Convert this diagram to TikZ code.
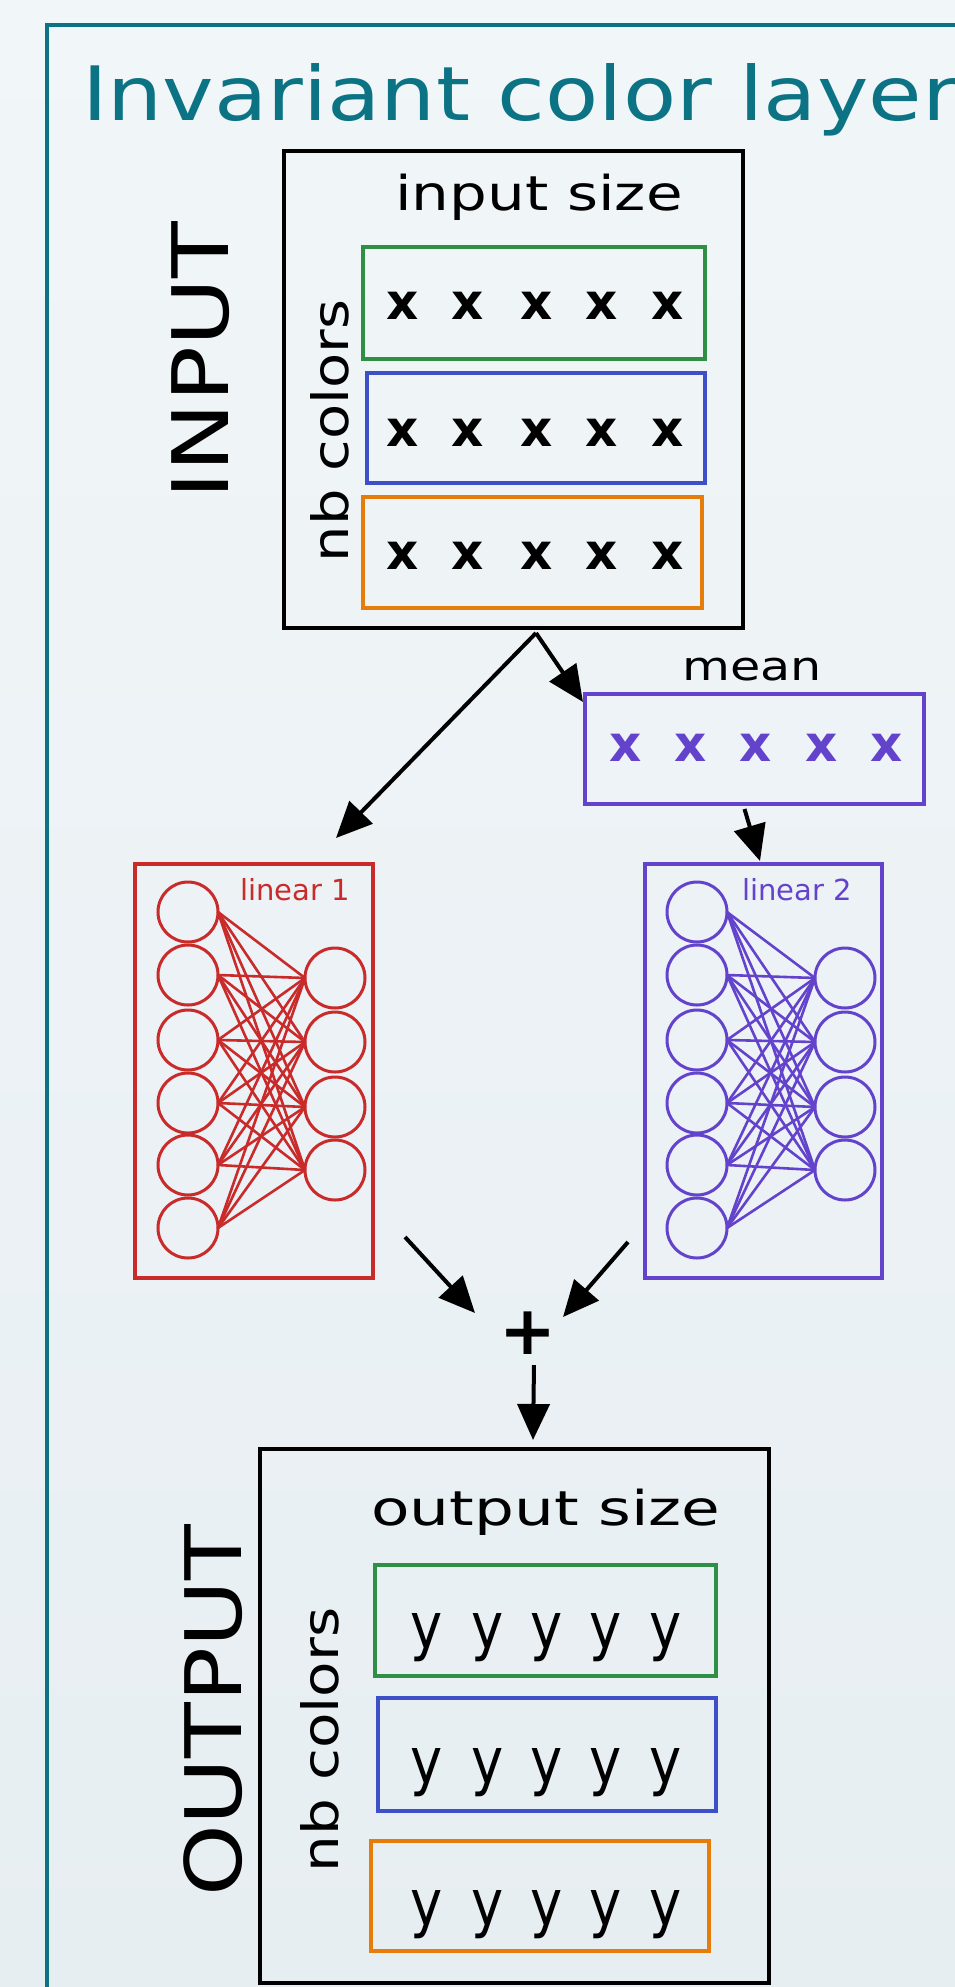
\documentclass[tikz,border=0pt]{standalone}
\usepackage{fontspec}
\setmainfont{DejaVu Sans}
\usetikzlibrary{arrows.meta,calc}
\definecolor{tealc}{HTML}{0C7385}
\definecolor{greenc}{HTML}{2F8F45}
\definecolor{bluec}{HTML}{3D50C8}
\definecolor{orangec}{HTML}{E67D0A}
\definecolor{redc}{HTML}{C92A2A}
\definecolor{purplec}{HTML}{6443CC}
\definecolor{bgtop}{HTML}{F1F6F8}
\definecolor{bgbot}{HTML}{E7EEF2}
\newcommand\fsz[1]{\fontsize{#1}{#1}\selectfont}
\begin{document}
\begin{tikzpicture}[x=1pt,y=-1pt,
  every node/.style={inner sep=0pt,outer sep=0pt},
  bigbox/.style={draw=black,rectangle,line width=3.6pt},
  rowbox/.style={draw=#1,rectangle,line width=3.2pt},
  netbox/.style={draw=#1,rectangle,line width=3.2pt},
  neu/.style={draw=#1,circle,minimum size=60pt,line width=3pt},
  wire/.style={draw=#1,line width=2.6pt},
  arr/.style={line width=4pt,-{Triangle[length=36pt,width=32pt]}},
  xmk/.style={font=\fsz{50}\bfseries},
  ymk/.style={font=\fsz{64},xscale=0.85},
  lbl/.style={anchor=base}]
\useasboundingbox (0,0) rectangle (955,1987);
\clip (0,0) rectangle (955,1987);
\fill[top color=bgtop,bottom color=bgbot] (0,0) rectangle (955,1987);
% outer frame
\node[draw=tealc,line width=3.6pt,rectangle,minimum width=940pt,minimum height=1990pt,anchor=north west] (frame) at (47,25) {};
\node[anchor=base west,text=tealc,font=\fsz{75},xscale=1.16] (title) at (82,120) {Invariant color layer};

% INPUT
\node[bigbox,minimum width=459pt,minimum height=477pt] (inp) at (513.5,389.5) {};
\node[lbl,font=\fsz{48},xscale=1.24] (insize) at (539,210) {input size};
\node[rowbox=greenc,minimum width=342pt,minimum height=112pt] (ig) at (534,303) {};
\node[rowbox=bluec,minimum width=338pt,minimum height=110pt] (ib) at (536,428) {};
\node[rowbox=orangec,minimum width=339pt,minimum height=111pt] (io) at (532.5,552.5) {};
\foreach \r/\y in {g/306,b/433,o/556}
  \foreach \c/\x in {1/403,2/468,3/537,4/602,5/668}
    \node[xmk] (ix\r\c) at (\x,\y) {x};
\node[lbl,font=\fsz{50},rotate=90,xscale=1.15] (inb) at (348,431) {nb colors};
\node[lbl,font=\fsz{78},rotate=90,xscale=1.19] (intitle) at (228,361) {INPUT};

% mean
\node[lbl,font=\fsz{40},xscale=1.23] (meanlbl) at (752,680) {mean};
\node[netbox=purplec,minimum width=339pt,minimum height=110pt] (mean) at (754.5,749) {};
\foreach \c/\x in {1/626,2/691,3/756,4/822,5/887}
  \node[xmk,text=purplec] (mx\c) at (\x,748) {x};

% linear 1
\node[netbox=redc,minimum width=238pt,minimum height=414pt] (lin1) at (254,1071) {};
\node[lbl,font=\fsz{29},text=redc] (lin1lbl) at (295,900) {linear 1};
\foreach \i/\y in {1/912,2/975,3/1040,4/1103,5/1165,6/1228}
  \node[neu=redc] (l1a\i) at (188,\y) {};
\foreach \j/\y in {1/978,2/1042,3/1107,4/1170}
  \node[neu=redc] (l1b\j) at (335,\y) {};
\foreach \i in {1,...,6}
  \foreach \j in {1,...,4}
    \draw[wire=redc] (l1a\i.east) -- (l1b\j.west);

% linear 2
\node[netbox=purplec,minimum width=237pt,minimum height=414pt] (lin2) at (763.5,1071) {};
\node[lbl,font=\fsz{29},text=purplec] (lin2lbl) at (797,900) {linear 2};
\foreach \i/\y in {1/912,2/975,3/1040,4/1103,5/1165,6/1228}
  \node[neu=purplec] (l2a\i) at (697,\y) {};
\foreach \j/\y in {1/978,2/1042,3/1107,4/1170}
  \node[neu=purplec] (l2b\j) at (845,\y) {};
\foreach \i in {1,...,6}
  \foreach \j in {1,...,4}
    \draw[wire=purplec] (l2a\i.east) -- (l2b\j.west);

% plus
\node[font=\fsz{68}\bfseries] (plus) at (528,1333) {+};

% OUTPUT
\node[bigbox,minimum width=509pt,minimum height=534pt] (out) at (514.5,1716) {};
\node[lbl,font=\fsz{48},xscale=1.31] (outsize) at (546,1525) {output size};
\node[rowbox=greenc,minimum width=341pt,minimum height=111pt] (og) at (545.5,1620.5) {};
\node[rowbox=bluec,minimum width=338pt,minimum height=113pt] (ob) at (547,1754.5) {};
\node[rowbox=orangec,minimum width=338pt,minimum height=110pt] (oo) at (540,1896) {};
\foreach \r/\y in {g/1638,b/1773,o/1915}
  \foreach \c/\x in {1/427,2/488,3/547,4/606,5/666}
    \node[ymk] (oy\r\c) at (\x,\y) {y};
\node[lbl,font=\fsz{50},rotate=90,xscale=1.16] (onb) at (338,1740) {nb colors};
\node[lbl,font=\fsz{78},rotate=90,xscale=1.17] (outtitle) at (241,1711) {OUTPUT};

% arrows
\draw[arr] ($(inp.south)+(22.5,5)$) -- ($(lin1.north)+(82,-26)$);
\draw[arr] ($(inp.south)+(22.5,5)$) -- ($(mean.north west)+(-2,8)$);
\draw[arr] ($(mean.south)+(-10,5)$) -- ($(lin2.north)+(-3.5,-3)$);
\draw[arr] ($(lin1.south east)+(32,-41)$) -- ($(plus.center)+(-53,-20)$);
\draw[arr] ($(lin2.south west)+(-17,-36)$) -- ($(plus.center)+(35,-16)$);
\draw[arr] ($(plus.center)+(6,32)$) -- ($(out.north)+(18.5,-9)$);
\end{tikzpicture}
\end{document}
